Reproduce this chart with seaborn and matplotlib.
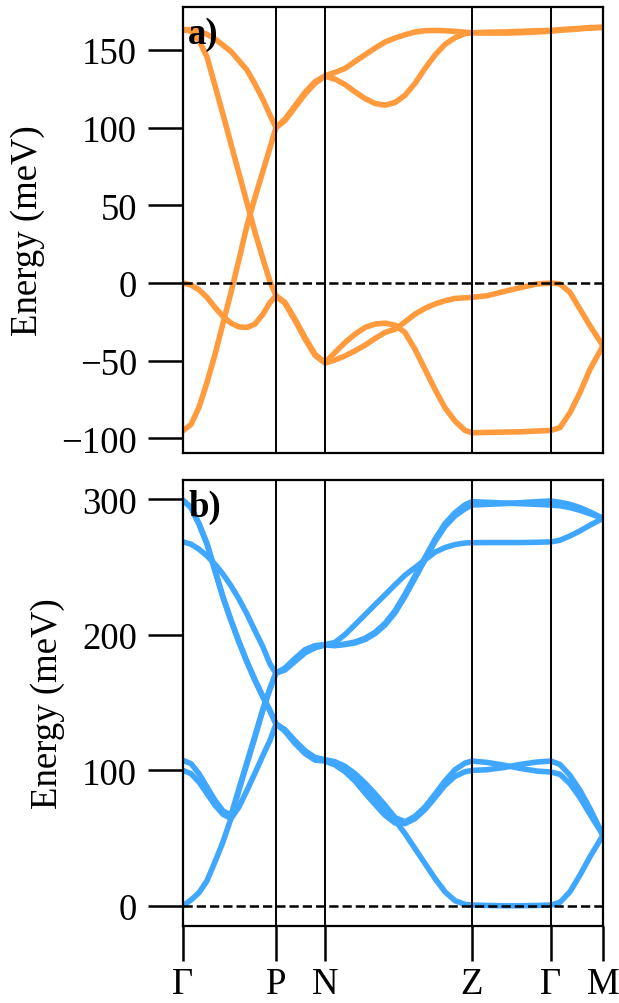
import numpy as np
import pandas as pd
import seaborn as sns
import matplotlib
matplotlib.use("Agg")
import matplotlib.pyplot as plt

# k-path (distance along path) and high symmetry points
k = [0, 0.08, 0.16, 0.24, 0.32, 0.40, 0.48, 0.56, 0.64, 0.72, 0.80, 0.87, 0.93,
     1.02, 1.12, 1.22, 1.32, 1.42,
     1.52, 1.62, 1.72, 1.82, 1.92, 2.02, 2.12, 2.22, 2.32, 2.42, 2.52, 2.62, 2.72, 2.82, 2.89,
     3.04, 3.20, 3.37, 3.54, 3.68,
     3.77, 3.87, 3.97, 4.07, 4.20]
sym_k = [0, 0.93, 1.42, 2.89, 3.68, 4.20]
sym_labels = ['Γ', 'P', 'N', 'Z', 'Γ', 'M']

# panel a) bands (meV)
a_band1 = [163, 163, 162, 160, 157, 153, 149, 143, 137, 128, 118, 108, 100,
           105.4, 114, 122.6, 129.5, 133.3,
           135.5, 138, 142.5, 146.8, 151.1, 155, 157.6, 159.7, 161.5, 162.3, 162.5, 162.3, 161.9, 161.4, 161,
           161.3, 161.5, 161.9, 162.3, 162.5,
           163, 163.4, 163.8, 164.3, 164.5]
a_band2 = [-95, -91, -80, -64, -46, -26, -6, 15, 37, 55, 72, 87, 100,
           104.5, 113, 121.5, 128.5, 133,
           131.2, 127.7, 123, 118.7, 115.5, 114.4, 116.1, 120.8, 128.4, 138, 146.6, 153.5, 157.8, 160.4, 161,
           160.8, 160.8, 161, 161.5, 162,
           162.6, 163, 163.5, 164, 164.5]
a_band3 = [163, 162, 156, 145.5, 127, 108.5, 89.5, 70.5, 51.6, 32.7, 15.5, 1, -8.2,
           -12.5, -23.2, -35, -45.8, -51.2,
           -44.7, -38.3, -32.9, -28.6, -26.4, -25.8, -27.1, -31.8, -42.6, -55.5, -68.4, -80.2, -88.8, -94.8, -96.3,
           -96.1, -95.9, -95.7, -95.2, -94.8,
           -93, -83.4, -70.5, -55.5, -40.4]
a_band4 = [0, -1.3, -4.3, -9.2, -15.7, -21.5, -25.8, -28.2, -28.6, -26.4, -20, -12.5, -8.2,
           -13, -24, -36, -46.5, -51.5,
           -49.5, -46.9, -43.6, -40, -35.7, -31.8, -29.7, -25, -20, -16.3, -13.5, -11.4, -9.9, -9.5, -9.2,
           -8.2, -5.6, -3, -0.6, 0,
           -0.6, -6, -16.8, -27.5, -40.4]

# panel b) bands (meV)
b_band1 = [299.3, 293.8, 281.6, 266.9, 247.2, 227.5, 210.4, 194.4, 179.7, 166.2, 153.9, 143.6, 134.3,
           129.4, 120.8, 113.4, 108.5, 107.3,
           105.3, 100.9, 94.5, 86.4, 78.3, 70, 63.1, 53.3, 42.2, 31.2, 20.1, 10.3, 3.7, 1, 0.5,
           0.2, 0, 0, 0.2, 0.5,
           2.5, 10.3, 22.6, 36.1, 52.1]
b_band2 = [268.6, 266.9, 263.2, 258.3, 252.1, 244.8, 236.2, 226.4, 215.3, 203, 191, 178.5, 171.6,
           175.5, 182.5, 189, 192, 192.7,
           194.4, 200.1, 207.4, 214.8, 222.2, 229.5, 236.9, 244, 249.6, 255.3, 261, 264.4, 266.6, 267.8, 268,
           268.1, 268.1, 268.1, 268.3, 268.6,
           269.8, 273, 276.7, 280.9, 286]
b_band3 = [107.3, 104.9, 97.5, 87.6, 77.8, 70, 66.8, 86.5, 106, 125.5, 145.5, 160.5, 172,
           174.8, 181.4, 187.8, 191.2, 192.7,
           192.2, 193.2, 194.7, 197.4, 201.8, 208.4, 217.7, 230, 243.5, 257, 270.5, 282, 290.1, 296, 298.3,
           297.8, 297.3, 296.8, 296.3, 295.8,
           295.3, 293.9, 291.9, 289.4, 286]
b_band4 = [99.9, 97.5, 91.3, 82.8, 74.2, 67.5, 64.4, 72.9, 85.2, 97.9, 111, 122, 134,
           130, 121.8, 114.5, 109.5, 107.8,
           106.3, 102.9, 97.5, 90.6, 82.7, 74.2, 65.1, 61.9, 66.0, 72.9, 82.3, 92.1, 100.4, 105.3, 106.8,
           105.8, 103.9, 101.4, 99.4, 98.7,
           97, 90.1, 79.8, 67.5, 52.1]
b_band5 = [0, 4.2, 9.6, 18.4, 32.4, 47.1, 64.4, 85.3, 104.9, 124.4, 144.6, 159.8, 171.6,
           174, 180.3, 186.6, 190.4, 192.4,
           192, 192.8, 194, 196.5, 200.8, 207.2, 216.2, 228.3, 241.8, 255.3, 268.8, 280, 287.8, 293, 295.8,
           296.3, 296.8, 297.5, 298.3, 298.8,
           297.8, 296.3, 293.9, 290.7, 286]
b_band6 = [299.3, 294.2, 282.2, 267.5, 247.8, 228.1, 211, 195, 180.3, 166.8, 154.5, 144.2, 134.3,
           128.8, 119.8, 112.4, 107.5, 106.8,
           103.9, 99, 92.1, 83.2, 74.9, 66.8, 61.1, 60.6, 64.3, 71, 79.8, 88.9, 95.5, 98.9, 99.9,
           100.4, 101.9, 104.3, 106.1, 106.8,
           104.3, 96.2, 85.2, 71.7, 52.1]

bands_a = [a_band1, a_band2, a_band3, a_band4]
bands_b = [b_band1, b_band2, b_band3, b_band4, b_band5, b_band6]

sns.set_style("ticks")
plt.rcParams['font.family'] = ['Liberation Serif', 'DejaVu Serif']
plt.rcParams['text.color'] = 'black'
plt.rcParams['axes.labelcolor'] = 'black'
plt.rcParams['axes.edgecolor'] = 'black'
plt.rcParams['xtick.color'] = 'black'
plt.rcParams['ytick.color'] = 'black'

orange = '#FF9A3D'
blue = '#3FA7FF'
fs = 26.5


def to_long(bands):
    rows = []
    for i, b in enumerate(bands):
        for kk, e in zip(k, b):
            rows.append({'k': kk, 'E': e, 'band': i})
    return pd.DataFrame(rows)


fig = plt.figure(figsize=(6.19, 10.04), dpi=100)
ax1 = fig.add_axes([0.2956, 0.5478, 0.6785, 0.4442])
ax2 = fig.add_axes([0.2956, 0.0767, 0.6785, 0.4442])

panels = [(ax1, bands_a, orange, 'a)', [-100, -50, 0, 50, 100, 150]),
          (ax2, bands_b, blue, 'b)', [0, 100, 200, 300])]

for ax, bands, color, tag, yt in panels:
    df = to_long(bands)
    sns.lineplot(data=df, x='k', y='E', hue='band', units='band', estimator=None,
                 palette=[color] * len(bands), lw=4.0, legend=False, ax=ax,
                 solid_capstyle='round', solid_joinstyle='round')
    ax.axhline(0, color='black', ls='--', lw=1.8, zorder=5)
    for xs in sym_k[1:-1]:
        ax.axvline(xs, color='black', lw=1.4, zorder=4)
    ax.set_xlim(sym_k[0], sym_k[-1])
    ax.set_yticks(yt)
    ax.set_ylabel('Energy (meV)', fontsize=fs, labelpad=12)
    ax.set_xlabel('')
    ax.tick_params(axis='y', direction='out', length=25, width=1.8, labelsize=fs, pad=8)
    for sp in ax.spines.values():
        sp.set_linewidth(1.6)
        sp.set_zorder(6)
    ax.text(0.012, 0.92, tag, transform=ax.transAxes, fontsize=fs,
            fontweight='bold', ha='left', va='baseline', zorder=7)

ax1.set_xticks([])
ax2.set_xticks(sym_k)
ax2.set_xticklabels(sym_labels)
ax2.tick_params(axis='x', direction='out', length=25, width=1.8, labelsize=fs, pad=4)

fig.savefig('out.png', dpi=100)
